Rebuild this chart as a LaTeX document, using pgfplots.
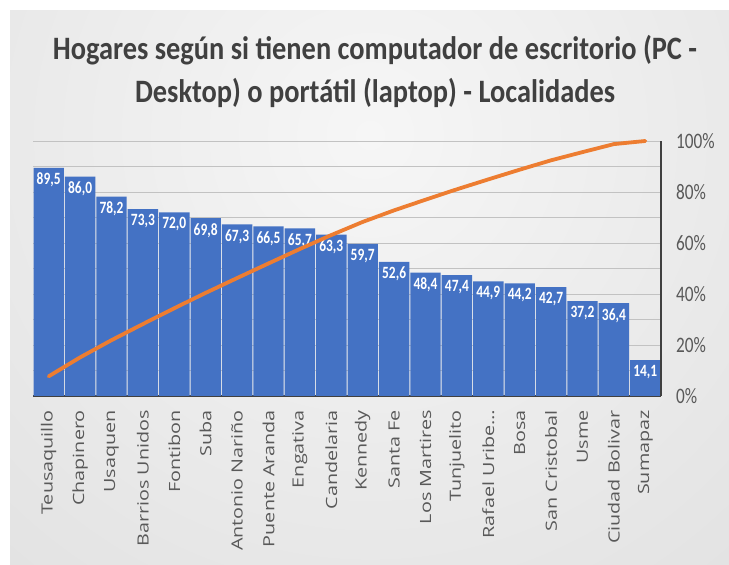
\documentclass[border=0pt]{standalone}
\usepackage{pgfplots}
\usepackage{pgfplotstable}
\pgfplotsset{compat=1.18}
\usepackage{fontspec}
\usepackage{graphicx}
\setmainfont{Carlito}
\newfontfamily\osans{Open Sans}

\definecolor{barblue}{HTML}{4472C4}
\definecolor{cumorange}{HTML}{ED7D31}
\definecolor{axisdark}{HTML}{404040}
\definecolor{txtgray}{HTML}{595959}
\definecolor{titlegray}{HTML}{404040}
\definecolor{gridgray}{HTML}{C2C2C2}
\definecolor{bglight}{HTML}{F6F6F6}
\definecolor{bgmid}{HTML}{E6E6E6}
\definecolor{bgdark}{HTML}{CBCBCB}

\pgfdeclareradialshading{bgshade}{\pgfpoint{0bp}{0bp}}{color(0bp)=(bglight); color(18bp)=(bgmid); color(50bp)=(bgdark)}

\newcommand{\vs}[1]{\scalebox{1}[1.28]{#1}}
\newcommand{\ts}[1]{\scalebox{1}[1.15]{#1}}
\newcommand{\hs}[1]{\scalebox{1.28}[1]{#1}}

\pgfplotstableread{
x y lab
0 89.5 89,5
1 86.0 86,0
2 78.2 78,2
3 73.3 73,3
4 72.0 72,0
5 69.8 69,8
6 67.3 67,3
7 66.5 66,5
8 65.7 65,7
9 63.3 63,3
10 59.7 59,7
11 52.6 52,6
12 48.4 48,4
13 47.4 47,4
14 44.9 44,9
15 44.2 44,2
16 42.7 42,7
17 37.2 37,2
18 36.4 36,4
19 14.1 14,1
}\bardata

\pgfplotstableread{
x c
0 7.72
1 15.14
2 21.89
3 28.21
4 34.42
5 40.44
6 46.25
7 51.98
8 57.65
9 63.11
10 68.26
11 72.80
12 76.98
13 81.06
14 84.94
15 88.75
16 92.43
17 95.64
18 98.78
19 100.00
}\cumdata

\begin{document}
\begin{tikzpicture}[x=1bp,y=1bp]
\useasboundingbox (0,0) rectangle (729,565);
\begin{scope}
\clip (10,0) rectangle (729,554);
\shade[shading=bgshade] (370,430) circle (650);
\end{scope}

\node[font=\bfseries\fontsize{28.5}{28.5}\selectfont, text=titlegray, anchor=base] at (375,505) {\ts{Hogares según si tienen computador de escritorio (PC -}};
\node[font=\bfseries\fontsize{28.5}{28.5}\selectfont, text=titlegray, anchor=base] at (375,462) {\ts{Desktop) o portátil (laptop) - Localidades}};

\begin{axis}[
  at={(33bp,169bp)}, anchor=south west, scale only axis,
  width=628bp, height=255bp,
  xmin=-0.5, xmax=19.5, ymin=0, ymax=100,
  axis x line*=bottom, axis y line*=left,
  x axis line style={draw=axisdark, line width=2bp, -},
  y axis line style={draw=none},
  ytick={0,10,...,100}, yticklabels={},
  ymajorgrids, grid style={gridgray, line width=0.8bp},
  major tick length=0pt,
  xtick={0,...,19},
  xticklabels={\hs{Teusaquillo},\hs{Chapinero},\hs{Usaquen},\hs{Barrios Unidos},\hs{Fontibon},\hs{Suba},\hs{Antonio Nariño},\hs{Puente Aranda},\hs{Engativa},\hs{Candelaria},\hs{Kennedy},\hs{Santa Fe},\hs{Los Martires},\hs{Tunjuelito},\hs{Rafael Uribe…},\hs{Bosa},\hs{San Cristobal},\hs{Usme},\hs{Ciudad Bolivar},\hs{Sumapaz}},
  xticklabel style={rotate=90, anchor=east, font=\osans\fontsize{15.5}{15.5}\selectfont, text=txtgray, inner sep=0pt},
  xticklabel shift=14bp,
  ybar, bar width=30.4bp,
  nodes near coords={\vs{\pgfplotspointmeta}},
  point meta=explicit symbolic,
  nodes near coords align={below},
  nodes near coords style={yshift=-5bp, text=white, font=\bfseries\fontsize{13.5}{13.5}\selectfont, inner sep=0pt},
  clip=false,
]
\addplot[fill=barblue, draw=none] table[x=x, y=y, meta=lab] {\bardata};
\end{axis}

\begin{axis}[
  at={(33bp,169bp)}, anchor=south west, scale only axis,
  width=628bp, height=255bp,
  xmin=-0.5, xmax=19.5, ymin=0, ymax=100,
  axis x line=none, axis y line*=right,
  y axis line style={draw=axisdark, line width=2bp, -},
  ytick={0,20,...,100},
  yticklabels={\vs{0\%},\vs{20\%},\vs{40\%},\vs{60\%},\vs{80\%},\vs{100\%}},
  yticklabel style={font=\fontsize{17.3}{17.3}\selectfont, text=txtgray, inner sep=0pt, anchor=west},
  yticklabel shift=15bp,
  major tick length=0pt,
  clip=false,
]
\addplot[cumorange, line width=3.8bp, line join=round, line cap=round] table[x=x, y=c] {\cumdata};
\end{axis}
\end{tikzpicture}
\end{document}
